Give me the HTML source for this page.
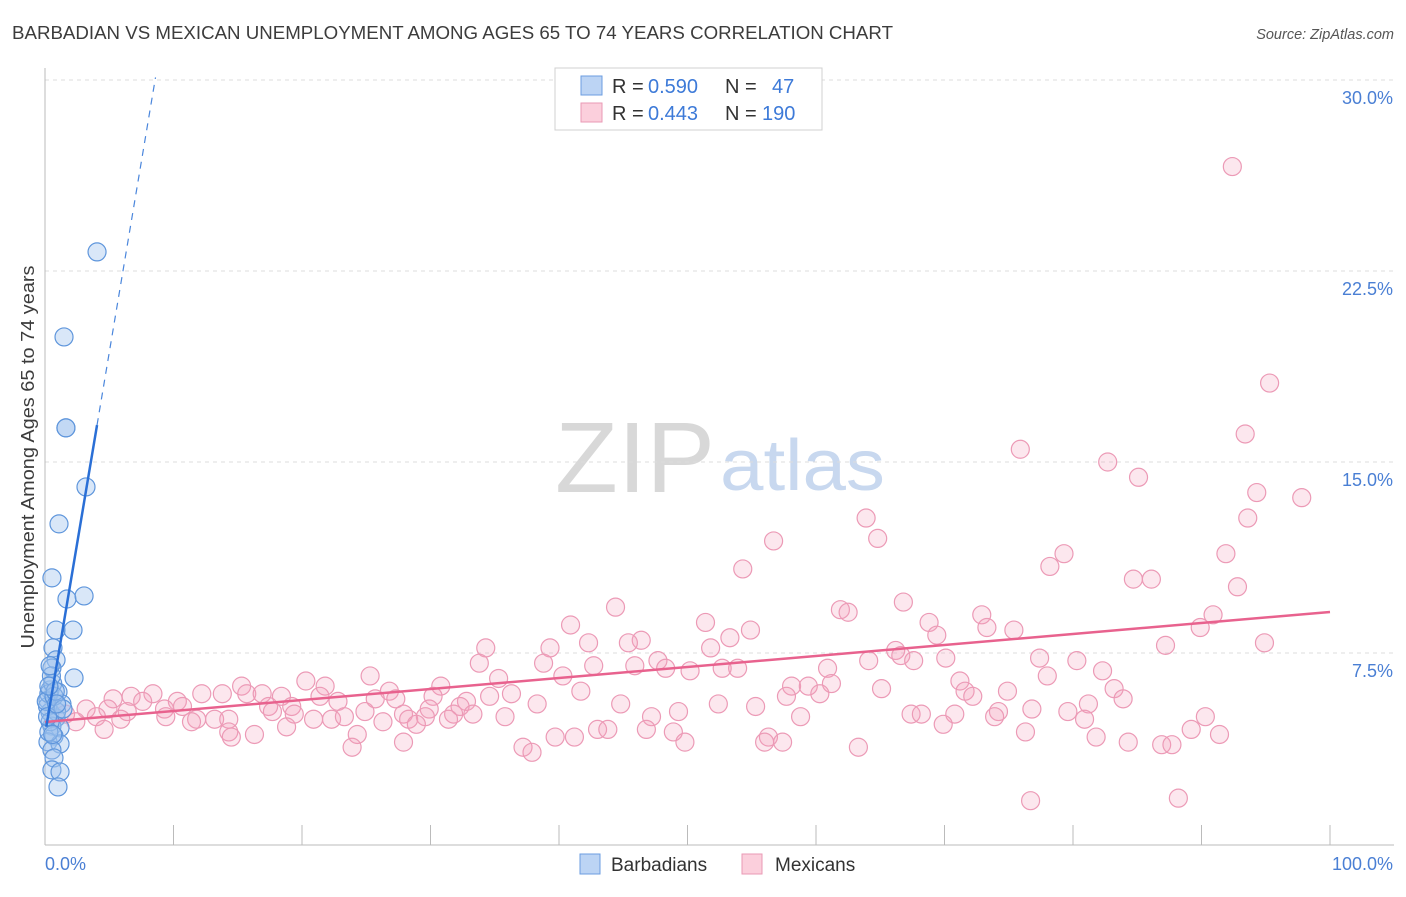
<!DOCTYPE html>
<html><head><meta charset="utf-8"><style>
body{margin:0;background:#fff;font-family:"Liberation Sans",sans-serif;}
svg text{font-family:"Liberation Sans",sans-serif;}
</style></head><body>
<svg id="chart" width="1406" height="892" xmlns="http://www.w3.org/2000/svg">
<text x="12" y="39" font-size="18" fill="#3c3c3c" textLength="881" lengthAdjust="spacingAndGlyphs">BARBADIAN VS MEXICAN UNEMPLOYMENT AMONG AGES 65 TO 74 YEARS CORRELATION CHART</text>
<text x="1394" y="39" font-size="14.5" fill="#555" font-style="italic" text-anchor="end">Source: ZipAtlas.com</text>
<g>
<text x="555" y="492" font-size="100" font-family="Liberation Serif,serif" fill="#d8d8d8" textLength="160" lengthAdjust="spacingAndGlyphs">ZIP</text>
<text x="720" y="490" font-size="72" fill="#c8d8ef" textLength="165" lengthAdjust="spacingAndGlyphs">atlas</text>
</g>
<g id="grid"></g><g id="axes"></g><g id="pink"></g><g id="blue"></g><g id="lines"></g>
<text transform="translate(34,457) rotate(-90)" font-size="18" fill="#3c3c3c" text-anchor="middle" textLength="383" lengthAdjust="spacingAndGlyphs">Unemployment Among Ages 65 to 74 years</text>
<text x="45" y="870" font-size="18" fill="#4a7fd4">0.0%</text>
<text x="1393" y="870" font-size="18" fill="#4a7fd4" text-anchor="end">100.0%</text>
<g>
<rect x="555" y="68" width="267" height="62" fill="#fff" stroke="#d0d0d0"/>
<rect x="581" y="76" width="21" height="19" fill="#bcd4f4" stroke="#6b9de0"/>
<rect x="581" y="103" width="21" height="19" fill="#fbcfdc" stroke="#ea9ab5"/>
<text x="612" y="93" font-size="20" fill="#333">R =</text>
<text x="648" y="93" font-size="20" fill="#3d7ad8">0.590</text>
<text x="725" y="93" font-size="20" fill="#333">N =</text>
<text x="772" y="93" font-size="20" fill="#3d7ad8">47</text>
<text x="612" y="120" font-size="20" fill="#333">R =</text>
<text x="648" y="120" font-size="20" fill="#3d7ad8">0.443</text>
<text x="725" y="120" font-size="20" fill="#333">N =</text>
<text x="762" y="120" font-size="20" fill="#3d7ad8">190</text>
</g>
<g>
<rect x="580" y="854" width="20" height="20" fill="#bcd4f4" stroke="#6b9de0"/>
<text x="611" y="871" font-size="19" fill="#333">Barbadians</text>
<rect x="742" y="854" width="20" height="20" fill="#fbcfdc" stroke="#ea9ab5"/>
<text x="775" y="871" font-size="19" fill="#333">Mexicans</text>
</g>
</svg>
<script>
const yTicks=[7.5,15,22.5,30];
const yTickLabels=["7.5%","15.0%","22.5%","30.0%"];
const xTicks=[0,10,20,30,40,50,60,70,80,90,100];
const blueX=[4.05,1.48,1.63,1.63,3.19,1.09,0.54,1.71,3.04,0.86,2.18,0.62,0.86,0.54,2.26,0.39,1.01,0.23,1.32,0.39,0.86,0.54,1.17,0.70,0.23,1.17,0.54,0.70,0.54,1.17,1.01,0.2,0.3,0.6,0.9,0.4,0.1,0.5,0.7,0.3,1.4,0.8,0.2,0.6,0.4,0.9,0.3];
const blueY=[23.25,19.91,16.34,16.34,14.02,12.57,10.45,9.62,9.74,8.40,8.40,7.70,7.23,6.91,6.52,6.05,5.97,5.65,5.50,5.18,4.95,4.63,4.56,4.24,4.01,3.93,3.69,3.38,2.91,2.83,2.24,5.4,5.9,6.3,5.2,4.8,5.6,6.6,5.8,4.4,5.3,6.0,5.0,4.3,7.0,5.5,6.2];
const pinkX=[92.4,95.3,93.4,75.9,82.7,85.1,94.3,97.8,63.9,93.6,56.7,64.8,79.3,91.9,78.2,54.3,84.7,86.1,92.8,44.4,61.9,62.5,66.8,72.9,90.9,51.4,40.9,68.8,73.3,75.4,89.9,54.9,53.3,69.4,46.4,45.4,42.3,94.9,87.2,34.3,39.3,51.8,66.2,66.6,64.1,67.6,70.1,77.4,80.3,33.8,38.8,45.9,47.7,42.7,48.3,50.2,52.7,53.9,60.9,82.3,78.0,25.3,35.3,20.3,21.8,26.8,30.8,40.3,71.2,71.6,58.1,59.4,61.2,83.2,65.1,15.3,41.7,74.9,8.4,12.2,13.8,15.7,16.9,18.4,21.4,6.7,30.2,34.6,36.3,57.7,60.3,72.2,83.9,5.3,7.6,10.3,22.8,25.7,27.3,32.8,38.3,44.8,52.4,17.4,19.2,10.7,29.9,32.3,81.2,55.3,76.8,3.2,4.9,9.3,6.4,17.7,19.4,24.9,27.9,31.8,33.3,49.3,67.4,68.2,70.8,74.2,79.6,90.3,1.6,4.0,9.4,11.8,13.2,14.3,20.9,22.3,23.3,28.3,29.6,31.4,35.8,47.2,58.8,73.9,80.9,2.4,5.9,11.4,18.8,26.3,28.9,69.9,4.6,43.0,43.8,46.8,89.2,14.3,48.9,76.3,14.5,16.3,24.3,39.7,41.2,56.3,91.4,49.8,56.0,57.4,81.8,84.3,27.9,23.9,37.2,63.3,86.9,87.7,37.9,76.7,88.2];
const pinkY=[26.6,18.1,16.1,15.5,15.0,14.4,13.8,13.6,12.8,12.8,11.9,12.0,11.4,11.4,10.9,10.8,10.4,10.4,10.1,9.3,9.2,9.1,9.5,9.0,9.0,8.7,8.6,8.7,8.5,8.4,8.5,8.4,8.1,8.2,8.0,7.9,7.9,7.9,7.8,7.7,7.7,7.7,7.6,7.4,7.2,7.2,7.3,7.3,7.2,7.1,7.1,7.0,7.2,7.0,6.9,6.8,6.9,6.9,6.9,6.8,6.6,6.6,6.5,6.4,6.2,6.0,6.2,6.6,6.4,6.0,6.2,6.2,6.3,6.1,6.1,6.2,6.0,6.0,5.9,5.9,5.9,5.9,5.9,5.8,5.8,5.8,5.8,5.8,5.9,5.8,5.9,5.8,5.7,5.7,5.6,5.6,5.6,5.7,5.7,5.6,5.5,5.5,5.5,5.4,5.4,5.4,5.3,5.4,5.5,5.4,5.3,5.3,5.3,5.3,5.2,5.2,5.1,5.2,5.1,5.1,5.1,5.2,5.1,5.1,5.1,5.2,5.2,5.0,5.1,5.0,5.0,4.9,4.9,4.9,4.9,4.9,5.0,4.9,5.0,4.9,5.0,5.0,5.0,5.0,4.9,4.8,4.9,4.8,4.6,4.8,4.7,4.7,4.5,4.5,4.5,4.5,4.5,4.4,4.4,4.4,4.2,4.3,4.3,4.2,4.2,4.2,4.3,4.0,4.0,4.0,4.2,4.0,4.0,3.8,3.8,3.8,3.9,3.9,3.6,1.7,1.8];
const pinkLine=[4.79,9.11];
const blueLine=[4.3,3.0];
const blueSolidEnd=4.05, blueDashEnd=8.6;
const NS="http://www.w3.org/2000/svg";
const X0=45,X1=1330,Y0=844,YS=191/7.5;
const sx=v=>X0+(X1-X0)*v/100, sy=v=>Y0-v*YS;
function mk(tag,attrs,parent){const e=document.createElementNS(NS,tag);for(const k in attrs)e.setAttribute(k,attrs[k]);document.getElementById(parent).appendChild(e);return e;}
yTicks.forEach((t,i)=>{
 const g=mk('line',{x1:X0,x2:1394,y1:sy(t),y2:sy(t),stroke:'#dcdcdc','stroke-dasharray':'4,4'},'grid');
 
 
 const l=mk('text',{x:1393,y:sy(t)+24,'font-size':18,fill:'#4a7fd4','text-anchor':'end'},'grid');
 l.textContent=yTickLabels[i];
 
 
});
const ya=mk('line',{x1:X0,x2:X0,y1:68,y2:Y0+1,stroke:'#bbb'},'axes');


const xa=mk('line',{x1:X0,x2:1394,y1:Y0+1,y2:Y0+1,stroke:'#bbb'},'axes');


xTicks.forEach(t=>{
 const k=mk('line',{x1:sx(t),x2:sx(t),y1:Y0-19,y2:Y0+1,stroke:'#bbb'},'axes');
 
 
});
pinkX.forEach((x,i)=>{
 const c=mk('circle',{cx:sx(x),cy:sy(pinkY[i]),r:9,fill:'rgba(244,160,188,0.25)',stroke:'#ec9ab6','stroke-width':1.2},'pink');
 
 
});
blueX.forEach((x,i)=>{
 const c=mk('circle',{cx:sx(x),cy:sy(blueY[i]),r:9,fill:'rgba(160,195,238,0.4)',stroke:'#5f96dc','stroke-width':1.2},'blue');
 
 
});
const pl=mk('line',{x1:sx(0),y1:sy(pinkLine[0]),x2:sx(100),y2:sy(pinkLine[1]),stroke:'#e8628e','stroke-width':2.5},'lines');


const bl=mk('line',{x1:sx(0.1),y1:sy(blueLine[0]+blueLine[1]*0.1),x2:sx(blueSolidEnd),y2:sy(blueLine[0]+blueLine[1]*blueSolidEnd),stroke:'#2a6fd6','stroke-width':2.5},'lines');


const bd=mk('line',{x1:sx(blueSolidEnd),y1:sy(blueLine[0]+blueLine[1]*blueSolidEnd),x2:sx(blueDashEnd),y2:sy(blueLine[0]+blueLine[1]*blueDashEnd),stroke:'#4a86dc','stroke-width':1.2,'stroke-dasharray':'7,6'},'lines');


</script>
</body></html>
